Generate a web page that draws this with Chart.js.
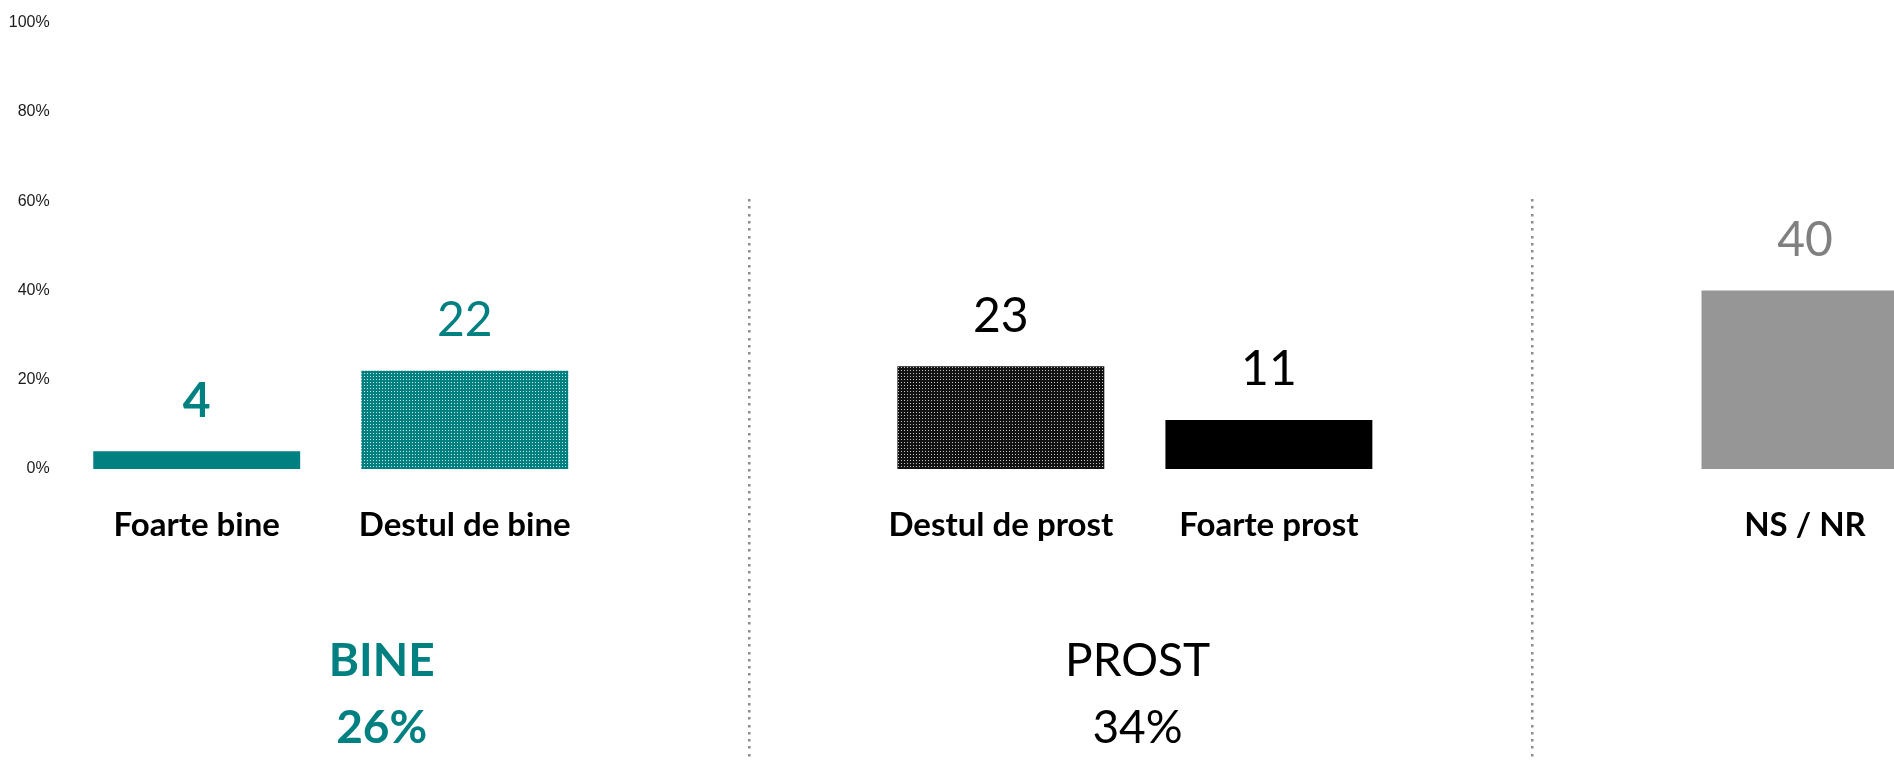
<!DOCTYPE html>
<html>
<head>
<meta charset="utf-8">
<script src="https://cdn.jsdelivr.net/npm/chart.js@4"></script>
<style>
  html, body { margin: 0; padding: 0; background: #fff; overflow: hidden; }
  #wrap { position: relative; width: 1939px; height: 760px; }
</style>
</head>
<body>
<div id="wrap"><canvas id="myChart"></canvas></div>
<script>
// data
const categories = ['Foarte bine', 'Destul de bine', '', 'Destul de prost', 'Foarte prost', '', 'NS / NR'];
const values = [4, 22, null, 23, 11, null, 40];
const yTicks = [0, 20, 40, 60, 80, 100];
const groupNames = ['BINE', 'PROST'];
const groupTotals = [26, 34];

const TEAL = '#008080';

function dotPattern(base, dot) {
  const c = document.createElement('canvas');
  c.width = 3; c.height = 3;
  const g = c.getContext('2d');
  g.fillStyle = base;
  g.fillRect(0, 0, 3, 3);
  g.fillStyle = dot;
  g.fillRect(1, 1, 1, 1);
  return document.createElement('canvas').getContext('2d').createPattern(c, 'repeat');
}

const barColors = [TEAL, dotPattern(TEAL, 'rgba(255,255,255,0.8)'), null,
  dotPattern('#111', 'rgba(255,255,255,0.75)'), '#000', null, '#969696'];
const labelColors = [TEAL, TEAL, null, '#000', '#000', null, '#808080'];
const labelBold = [true, false, false, false, false, false, false];

// value labels above the bars
const valueLabels = {
  id: 'valueLabels',
  afterDatasetsDraw(chart) {
    const ctx = chart.ctx;
    const meta = chart.getDatasetMeta(0);
    ctx.save();
    ctx.textAlign = 'center';
    ctx.textBaseline = 'middle';
    meta.data.forEach((bar, i) => {
      if (values[i] == null) return;
      ctx.font = (labelBold[i] ? 'bold ' : '') + '48px Lato';
      ctx.fillStyle = labelColors[i];
      ctx.fillText(String(values[i]), bar.x, bar.y - 50);
    });
    ctx.restore();
  }
};

// dotted dividers and group totals
const groups = {
  id: 'groups',
  afterDraw(chart) {
    const ctx = chart.ctx;
    const x = chart.scales.x;
    ctx.save();
    ctx.fillStyle = '#8c8c8c';
    [2.06, 4.98].forEach(v => {
      const px = Math.round(x.getPixelForValue(v));
      for (let y = 199; y < 760; y += 7.3) {
        ctx.fillRect(px - 1, Math.round(y), 2.5, 2.5);
      }
    });
    ctx.textAlign = 'center';
    ctx.textBaseline = 'middle';
    const pos = [0.69, 3.51];
    const cols = [TEAL, '#000'];
    const bold = [true, false];
    groupNames.forEach((name, i) => {
      const px = x.getPixelForValue(pos[i]);
      ctx.fillStyle = cols[i];
      ctx.font = (bold[i] ? 'bold ' : '') + '46px Lato';
      ctx.fillText(name, px, 661);
      ctx.fillText(groupTotals[i] + '%', px, 728);
    });
    ctx.restore();
  }
};

const ctx = document.getElementById('myChart').getContext('2d');
const myChart = new Chart(ctx, {
  type: 'bar',
  data: {
    labels: categories,
    datasets: [{
      data: values,
      backgroundColor: barColors,
      barPercentage: 0.772,
      categoryPercentage: 1
    }]
  },
  options: {
    responsive: true,
    maintainAspectRatio: false,
    animation: false,
    layout: { padding: { top: 22, left: 0, right: 0, bottom: 0 } },
    plugins: { legend: { display: false }, tooltip: { enabled: false } },
    scales: {
      x: {
        grid: { display: false, drawTicks: false },
        border: { display: false },
        ticks: {
          padding: 37,
          color: '#000',
          font: { family: 'Lato', size: 33, weight: 'bold' }
        },
        afterFit(s) { s.height = 291; }
      },
      y: {
        min: 0,
        max: 100,
        afterBuildTicks(s) { s.ticks = yTicks.map(v => ({ value: v })); },
        grid: { display: false, drawTicks: false },
        border: { display: false },
        ticks: {
          padding: 13,
          color: '#1a1a1a',
          font: { family: 'Liberation Sans', size: 16 },
          callback: v => v + '%'
        },
        afterFit(s) { s.width = 62.7; }
      }
    }
  },
  plugins: [valueLabels, groups]
});
</script>
</body>
</html>
